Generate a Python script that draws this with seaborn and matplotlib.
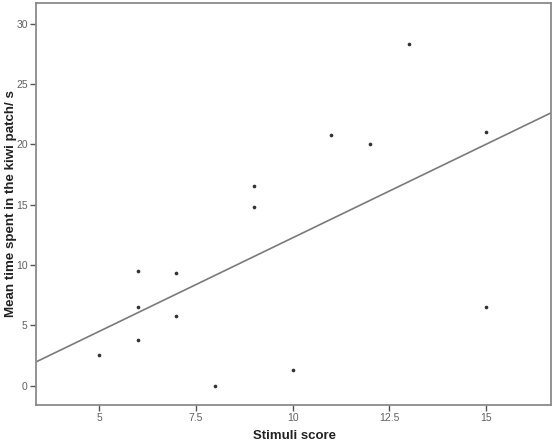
import numpy as np
import pandas as pd
import matplotlib
matplotlib.use("Agg")
import matplotlib.pyplot as plt
import seaborn as sns

# Values
stimuli_score = [5, 6, 6, 6, 7, 7, 8, 9, 9, 10, 11, 12, 13, 15, 15]
mean_time = [2.5, 9.5, 6.5, 3.8, 9.3, 5.8, 0.0, 16.5, 14.8, 1.3, 20.8, 20.0, 28.3, 21.0, 6.5]
x_ticks = [5, 7.5, 10, 12.5, 15]
x_tick_labels = ["5", "7.5", "10", "12.5", "15"]
y_ticks = [0, 5, 10, 15, 20, 25, 30]

df = pd.DataFrame({"Stimuli score": stimuli_score, "Mean time": mean_time})

sns.set_style("white")
plt.rcParams["font.family"] = ["Liberation Sans", "DejaVu Sans"]

fig = plt.figure(figsize=(5.59, 4.47), dpi=100)
ax = fig.add_axes([0.0644, 0.094, 0.9213, 0.8993])
# limits first so the fit line spans the whole frame
ax.set_xlim(3.37, 16.68)
ax.set_ylim(-1.6, 31.7)

sns.regplot(data=df, x="Stimuli score", y="Mean time", ax=ax, ci=None, truncate=False,
            scatter_kws={"s": 7, "color": "black", "linewidths": 0},
            line_kws={"color": "#7a7a7a", "linewidth": 1.2})
ax.set_xlim(3.37, 16.68)
ax.set_ylim(-1.6, 31.7)

ax.set_xticks(x_ticks)
ax.set_xticklabels(x_tick_labels)
ax.set_yticks(y_ticks)
ax.tick_params(axis="both", which="major", direction="out", length=4, width=1,
               color="#555555", labelsize=7.5, labelcolor="#606060", pad=2,
               bottom=True, left=True)

for side, sp in ax.spines.items():
    sp.set_color("#8a8a8a")
    sp.set_linewidth(1.3)

ax.set_xlabel("Stimuli score", fontsize=9.5, fontweight="bold", color="#222222")
ax.set_ylabel("Mean time spent in the kiwi patch/ s", fontsize=9.6, fontweight="bold",
              color="#222222")
ax.xaxis.set_label_coords(0.502, -0.062)
ax.yaxis.set_label_coords(-0.037, 0.5)

plt.savefig("out.png", dpi=100)
